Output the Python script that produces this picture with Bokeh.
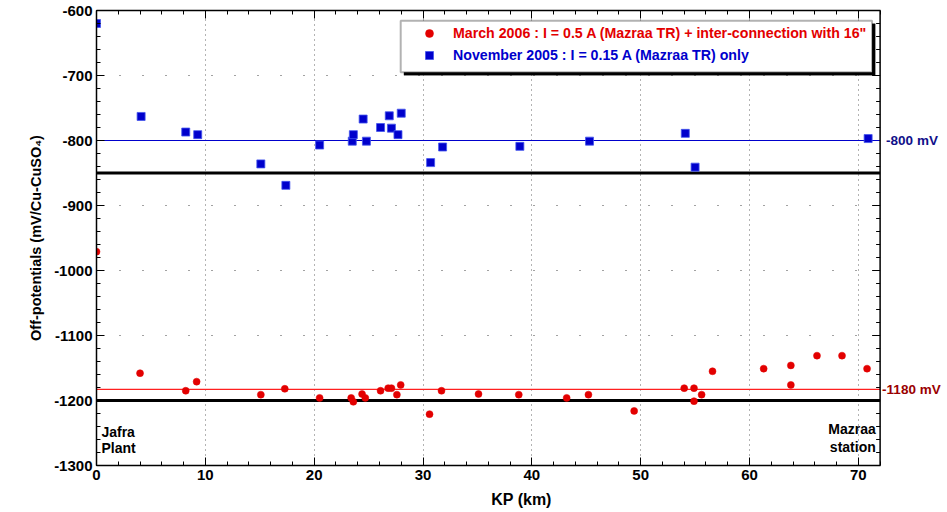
from bokeh.plotting import figure
from bokeh.models import (Range1d, LinearAxis, Span, Label, Legend, LegendItem,
                          BoxAnnotation, SingleIntervalTicker, CustomJSTickFormatter)
from bokeh.embed import file_html
from bokeh.resources import INLINE

# ---------------- data ----------------
march_km = [0.0, 4.0, 8.2, 9.2, 15.1, 17.3, 20.5, 23.4, 23.6, 24.4, 24.7, 26.1,
            26.8, 27.1, 27.6, 27.95, 30.6, 31.7, 35.1, 38.8, 43.2, 45.2, 49.4,
            54.0, 54.9, 54.9, 55.6, 56.6, 61.3, 63.8, 63.8, 66.2, 68.5, 70.8]
march_mv = [-971, -1158, -1185, -1171, -1191, -1182, -1196, -1196, -1202, -1190,
            -1196, -1185, -1181, -1181, -1191, -1176, -1221, -1185, -1190, -1191,
            -1196, -1191, -1216, -1181, -1181, -1201, -1191, -1155, -1151, -1146,
            -1176, -1131, -1131, -1151]

nov_km = [0.0, 4.1, 8.2, 9.3, 15.1, 17.4, 20.5, 23.5, 23.6, 24.5, 24.8, 26.1,
          26.9, 27.1, 27.7, 28.0, 30.7, 31.8, 38.9, 45.3, 54.1, 55.0, 70.9]
nov_mv = [-620, -763, -787, -791, -836, -869, -807, -801, -791, -767, -801, -780,
          -762, -781, -791, -758, -834, -810, -809, -801, -789, -841, -797]

march_label = 'March 2006 : I = 0.5 A (Mazraa TR) + inter-connection with 16"'
nov_label = "November 2005 : I = 0.15 A (Mazraa TR) only"

x_min, x_max = 0, 72
y_min, y_max = -1300, -600
y_minor_step = 20
y_grid = [-1200, -1100, -1000, -900, -800, -700]
criteria_black = [-850, -1200]
criterion_blue = -800
criterion_red = -1183
blue_text = "-800 mV"
red_text = "-1180 mV"

FONT = "Liberation Sans"
RED = "#e30000"
BLUE = "#0000cc"

p = figure(width=946, height=511, output_backend="svg", toolbar_location=None,
           x_range=Range1d(x_min, 78.1), y_range=Range1d(y_min, y_max),
           min_border_left=96, min_border_right=0, min_border_top=10,
           min_border_bottom=46)
p.background_fill_color = "white"
p.border_fill_color = "white"
p.outline_line_color = None

xt = SingleIntervalTicker(interval=10, num_minor_ticks=5)
yt = SingleIntervalTicker(interval=100, num_minor_ticks=5)
p.xaxis.ticker = xt
p.yaxis.ticker = yt
p.xgrid.ticker = xt
p.xaxis.bounds = (x_min, x_max)
p.yaxis.formatter = CustomJSTickFormatter(code="return tick.toFixed(0)")

for ax in (p.xaxis[0], p.yaxis[0]):
    ax.major_tick_in = 8
    ax.major_tick_out = 0
    ax.minor_tick_in = 4
    ax.minor_tick_out = 0
    ax.axis_line_color = "black"
    ax.axis_line_width = 1.5
    ax.major_label_text_font = FONT
    ax.major_label_text_font_style = "bold"
    ax.major_label_text_font_size = "15px"
    ax.major_label_text_color = "black"
    ax.axis_label_text_font = FONT
    ax.axis_label_text_font_style = "bold"
    ax.axis_label_text_color = "black"

p.xaxis.axis_label = "KP (km)"
p.yaxis.axis_label = "Off-potentials (mV/Cu-CuSO₄)"
p.xaxis.axis_label_text_font_size = "16px"
p.yaxis.axis_label_text_font_size = "14.5px"
p.xaxis.major_label_standoff = 4
p.xaxis.axis_label_standoff = 8
p.yaxis.major_label_standoff = 4
p.yaxis.axis_label_standoff = 7

# top axis: ticks only
top = LinearAxis(ticker=xt, bounds=(x_min, x_max),
                 formatter=CustomJSTickFormatter(code="return ''"))
top.major_tick_in = 8
top.major_tick_out = 0
top.minor_tick_in = 4
top.minor_tick_out = 0
top.major_label_standoff = 0
top.axis_line_color = "black"
top.axis_line_width = 1.5
p.add_layout(top, "above")

# grid: vertical via Grid, horizontal limited to the plot box
p.xgrid.grid_line_color = "#666666"
p.xgrid.grid_line_dash = "1 4"
p.xgrid.grid_line_width = 1
p.xgrid.bounds = (x_min + 1, x_max - 1)
p.ygrid.visible = False
p.segment(x0=[x_min] * len(y_grid), x1=[x_max] * len(y_grid), y0=y_grid, y1=y_grid,
          line_color="#444444", line_width=1, line_dash="1 22")

# right frame edge with inward ticks
p.add_layout(Span(location=x_max, dimension="height", line_color="black", line_width=1.5))
px_per_km = 850 / 78.1
ry_major = list(range(y_min, y_max + 1, 100))
ry_minor = [v for v in range(y_min, y_max + 1, y_minor_step) if v not in ry_major]
p.segment(x0=[x_max] * len(ry_major), x1=[x_max - 8 / px_per_km] * len(ry_major),
          y0=ry_major, y1=ry_major, line_color="black", line_width=1)
p.segment(x0=[x_max] * len(ry_minor), x1=[x_max - 4 / px_per_km] * len(ry_minor),
          y0=ry_minor, y1=ry_minor, line_color="black", line_width=1)

# reference lines
p.segment(x0=[x_min] * 2, x1=[x_max] * 2, y0=criteria_black, y1=criteria_black,
          line_color="black", line_width=3)
p.segment(x0=[x_min], x1=[x_max], y0=[criterion_blue], y1=[criterion_blue],
          line_color=BLUE, line_width=1.2)
p.segment(x0=[x_min], x1=[x_max], y0=[criterion_red], y1=[criterion_red],
          line_color="#ff2020", line_width=1.2)

r_red = p.scatter(march_km, march_mv, marker="circle", size=7, fill_color=RED,
                  line_color=RED, line_width=0.5)
r_blue = p.scatter(nov_km, nov_mv, marker="square", size=8, fill_color=BLUE,
                   line_color="#4455ee", line_width=0.8)

# labels
for txt, y, col, off in ((blue_text, criterion_blue, "#10108a", 6),
                         (red_text, criterion_red, "#9a0000", 2)):
    p.add_layout(Label(x=x_max, y=y, text=txt, x_offset=off, text_baseline="middle",
                       text_font=FONT, text_font_style="bold", text_font_size="13.5px",
                       text_color=col))

for txt, y in (("Jafra", -1248), ("Plant", -1273)):
    p.add_layout(Label(x=0.45, y=y, text=txt, text_baseline="middle",
                       text_font=FONT, text_font_style="bold", text_font_size="14px",
                       text_color="black"))
for txt, y in (("Mazraa", -1244), ("station", -1271)):
    p.add_layout(Label(x=71.6, y=y, text=txt, text_baseline="middle", text_align="right",
                       text_font=FONT, text_font_style="bold", text_font_size="14px",
                       text_color="black"))

# legend box with shadow
p.add_layout(BoxAnnotation(left=28.25, right=71.55, top=-620.3, bottom=-699.7,
                           fill_color="black", fill_alpha=1, line_color="black",
                           level="annotation"))
p.add_layout(BoxAnnotation(left=27.95, right=71.26, top=-615.7, bottom=-695.1,
                           fill_color="white", fill_alpha=1, line_color="black",
                           line_width=2, level="annotation"))

for lab, rend, col, yloc in ((march_label, r_red, RED, 422), (nov_label, r_blue, BLUE, 400)):
    lg = Legend(items=[LegendItem(label=lab, renderers=[rend])], location=(323, yloc),
                margin=0, padding=0, spacing=0, label_standoff=14,
                border_line_color=None, background_fill_alpha=0,
                label_text_font=FONT, label_text_font_style="bold",
                label_text_font_size="14.2px", label_text_color=col,
                glyph_width=20, glyph_height=20)
    p.add_layout(lg)

open("out.html", "w").write(file_html(p, INLINE))
